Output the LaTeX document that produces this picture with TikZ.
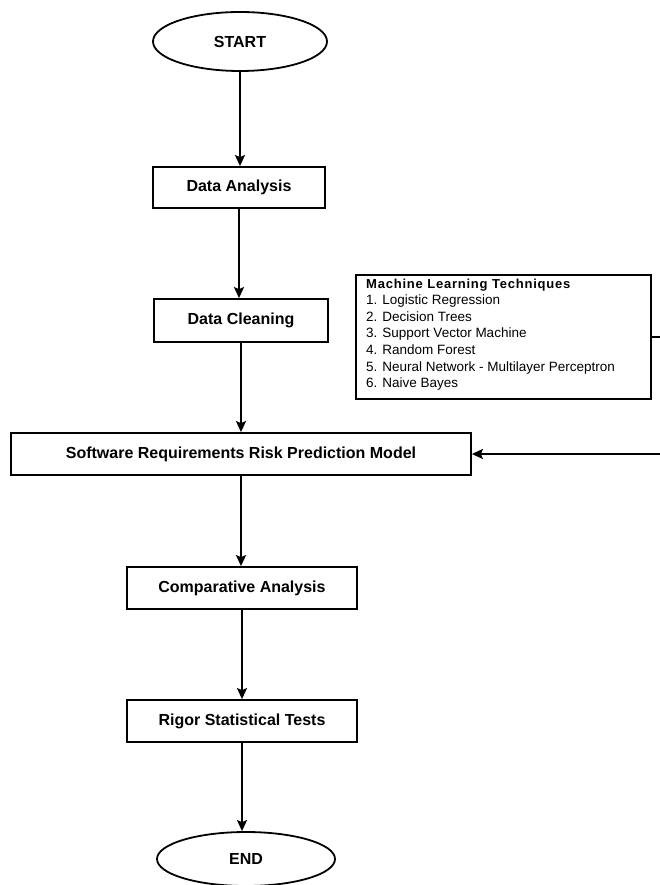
\documentclass[tikz,border=0pt]{standalone}
\usepackage{fontspec}
\setmainfont{Liberation Sans}
\newfontfamily\hdrfont[LetterSpace=6]{Liberation Sans Bold}
\usetikzlibrary{arrows.meta,shapes.geometric}
\begin{document}
\begin{tikzpicture}[x=1pt,y=-1pt,
  every node/.style={font=\fontsize{16}{19}\selectfont\bfseries},
  procbox/.style={draw, line width=1.8pt, rectangle, inner sep=0pt},
  term/.style={draw, line width=1.8pt, ellipse, inner sep=0pt},
  arr/.style={line width=1.8pt, -{Stealth[length=11pt,width=10pt,inset=2pt]}}]
\useasboundingbox (0,0) rectangle (660,885);
\node[term, minimum width=174, minimum height=59] (start) at (240,41.5) {START};
\node[procbox, minimum width=172, minimum height=41] (da) at (239,187.5) {Data Analysis};
\node[procbox, minimum width=174, minimum height=43] (dc) at (241,320.5) {Data Cleaning};
\node[procbox, minimum width=460, minimum height=42] (srr) at (241,454) {Software Requirements Risk Prediction Model};
\node[procbox, minimum width=230, minimum height=42] (ca) at (242,588) {Comparative Analysis};
\node[procbox, minimum width=230, minimum height=42] (rst) at (242,721) {Rigor Statistical Tests};
\node[term, minimum width=178, minimum height=54] (end) at (246,859) {END};
\node[procbox, minimum width=295, minimum height=124, anchor=north west] (ml) at (355,274) {};
\node[anchor=north west, inner sep=0pt, align=left, font=\fontsize{13.5}{16.6}\selectfont] (mltext) at (366,278.5)
  {{\hdrfont\fontsize{13}{16.6}\selectfont Machine Learning Techniques}\\
   1. Logistic Regression\\
   2. Decision Trees\\
   3. Support Vector Machine\\
   4. Random Forest\\
   5. Neural Network - Multilayer Perceptron\\
   6. Naive Bayes};
\draw[arr] (start.south) -- (start.south |- da.north);
\draw[arr] (da.south) -- (da.south |- dc.north);
\draw[arr] (dc.south) -- (dc.south |- srr.north);
\draw[arr] (srr.south) -- (srr.south |- ca.north);
\draw[arr] (ca.south) -- (ca.south |- rst.north);
\draw[arr] (rst.south) -- (rst.south |- end.north);
\draw[arr] (ml.east) -- ++(16,0) coordinate (mlturn) |- (srr.east);
\end{tikzpicture}
\end{document}
